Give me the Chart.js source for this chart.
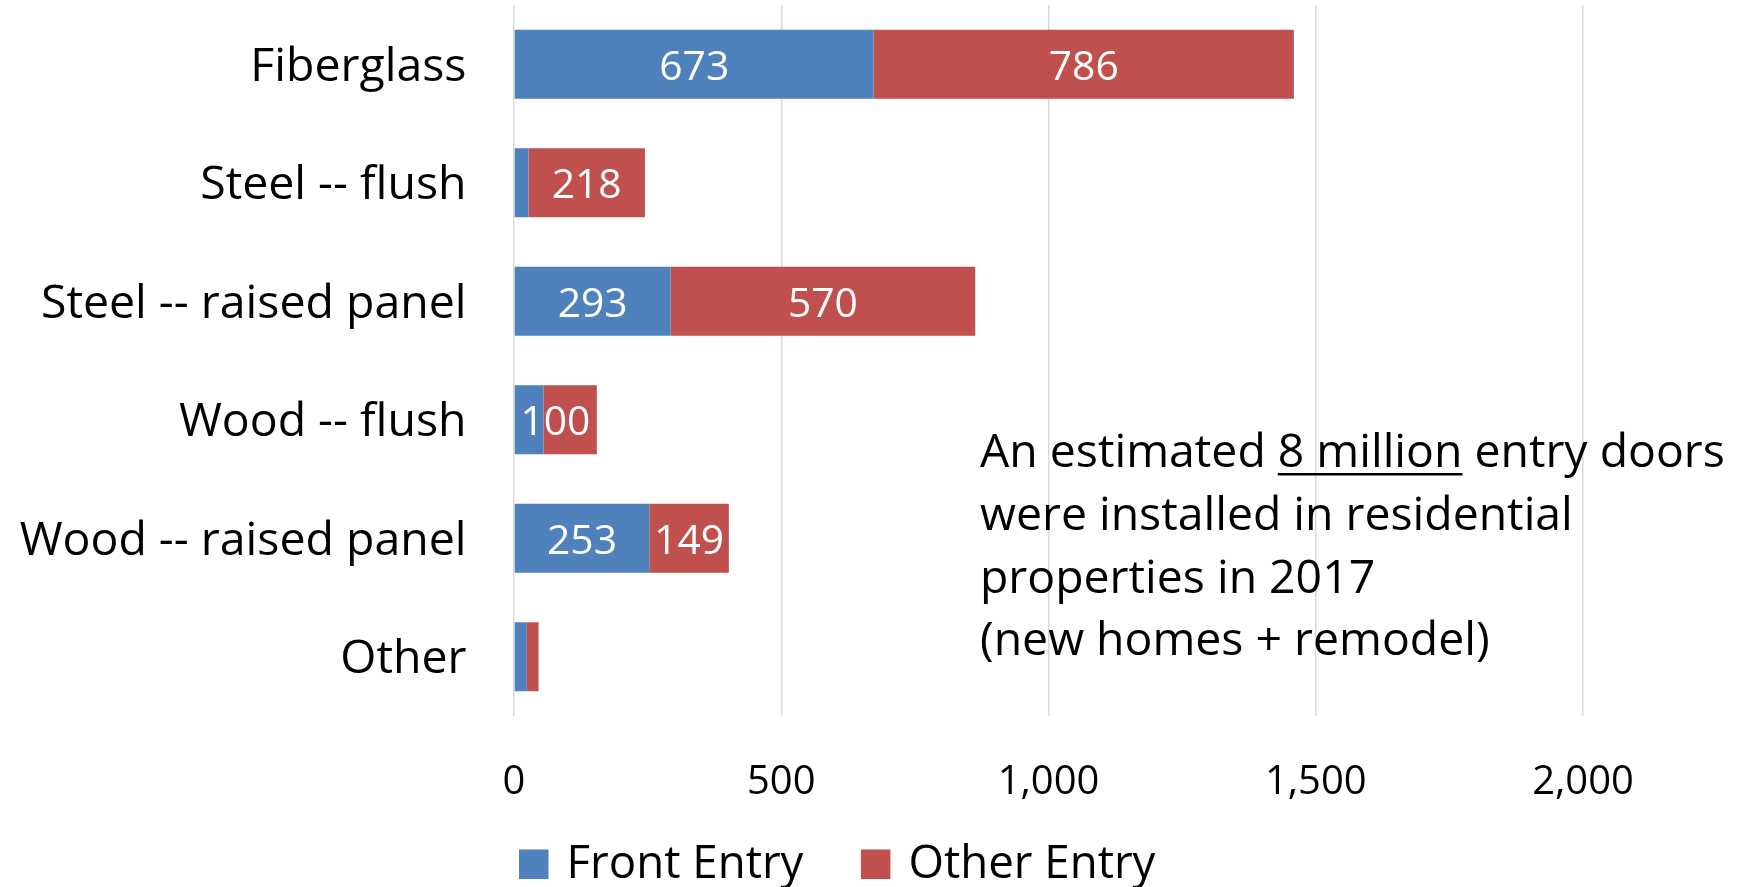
<!DOCTYPE html>
<html>
<head>
<meta charset="utf-8">
<script src="https://cdn.jsdelivr.net/npm/chart.js@4/dist/chart.umd.min.js"></script>
<style>
html,body{margin:0;padding:0;background:#fff;}
#wrap{width:1746px;height:887px;position:relative;}
</style>
</head>
<body>
<div id="wrap"><canvas id="c" width="1746" height="887"></canvas></div>
<script>
// ---- data ----
const categories = ['Fiberglass', 'Steel -- flush', 'Steel -- raised panel', 'Wood -- flush', 'Wood -- raised panel', 'Other'];
const frontEntry = [673, 27, 293, 55, 253, 24];
const otherEntry = [786, 218, 570, 100, 149, 22];
const frontLabels = ['673', null, '293', null, '253', null];
const otherLabels = ['786', '218', '570', '100', '149', null];
const xTicks = [0, 500, 1000, 1500, 2000];
const seriesNames = ['Front Entry', 'Other Entry'];
const seriesColors = ['#4F81BD', '#C0504D'];
const noteLines = ['An estimated 8 million entry doors', 'were installed in residential', 'properties in 2017', '(new homes + remodel)'];
const notePrefix = 'An estimated ';
const noteUnderlined = '8 million';

// ---- font fitting (substitute for Calibri) ----
const FAMILY = '"Open Sans", sans-serif';
const CAP = 0.714;
const mctx = document.createElement('canvas').getContext('2d');
function fit(text, w) { mctx.font = '100px ' + FAMILY; return 100 * w / mctx.measureText(text).width; }
const catSize = fit('Wood -- raised panel', 447);
const tickSize = fit('1,000', 101.7);
const valSize = fit('218', 70);
const legSize = fit('Front Entry', 237);
const noteSize = fit(noteLines[0], 745);

Chart.defaults.font.family = FAMILY;
Chart.defaults.color = '#000';

// nudge category labels slightly down to sit like the reference
const labelNudge = {
  id: 'labelNudge',
  beforeDraw(chart) {
    const s = chart.scales.y;
    const items = s.getLabelItems();
    if (!items._nudged) {
      items.forEach(it => { it.options.translation[1] += 3.5; });
      items._nudged = true;
    }
  }
};

const valueLabels = {
  id: 'valueLabels',
  afterDatasetsDraw(chart) {
    const ctx = chart.ctx;
    const lbls = [frontLabels, otherLabels];
    const x0 = chart.scales.x.getPixelForValue(0);
    ctx.save();
    ctx.font = valSize + 'px ' + FAMILY;
    ctx.fillStyle = '#ffffff';
    ctx.textAlign = 'center';
    ctx.textBaseline = 'alphabetic';
    chart.data.datasets.forEach((ds, di) => {
      const meta = chart.getDatasetMeta(di);
      meta.data.forEach((el, i) => {
        const t = lbls[di][i];
        if (t == null) return;
        const p = el.getProps(['x', 'base', 'y'], true);
        const w = ctx.measureText(t).width;
        let cx = (p.x + p.base) / 2;
        if (w > Math.abs(p.x - p.base)) {
          const lastMeta = chart.getDatasetMeta(chart.data.datasets.length - 1);
          const endX = lastMeta.data[i].getProps(['x'], true).x;
          cx = (x0 + endX) / 2;
        }
        ctx.fillText(t, cx, p.y + valSize * CAP / 2 + 1);
      });
    });
    ctx.restore();
  }
};

const extras = {
  id: 'extras',
  afterDraw(chart) {
    const ctx = chart.ctx;
    ctx.save();
    // legend
    ctx.font = legSize + 'px ' + FAMILY;
    ctx.textAlign = 'left';
    ctx.textBaseline = 'alphabetic';
    let x = 519;
    seriesNames.forEach((name, i) => {
      ctx.fillStyle = seriesColors[i];
      ctx.fillRect(x, 849.5, 29.5, 29.5);
      ctx.fillStyle = '#000';
      ctx.fillText(name, x + 47.5, 878);
      x = x + 47.5 + ctx.measureText(name).width + 57.5;
    });
    // annotation
    ctx.font = noteSize + 'px ' + FAMILY;
    ctx.fillStyle = '#000';
    const nx = 980;
    const baselines = [467, 530, 593, 655];
    noteLines.forEach((l, i) => ctx.fillText(l, nx, baselines[i]));
    const ux = nx + ctx.measureText(notePrefix).width;
    const uw = ctx.measureText(noteUnderlined).width;
    ctx.fillRect(ux, 473, uw, 2.5);
    ctx.restore();
  }
};

new Chart(document.getElementById('c'), {
  type: 'bar',
  data: {
    labels: categories,
    datasets: [
      { label: seriesNames[0], data: frontEntry, backgroundColor: seriesColors[0], borderWidth: 0 },
      { label: seriesNames[1], data: otherEntry, backgroundColor: seriesColors[1], borderWidth: 0 }
    ]
  },
  options: {
    indexAxis: 'y',
    responsive: false,
    animation: false,
    events: [],
    layout: { padding: { top: 5, right: 163, left: 0, bottom: 0 } },
    datasets: { bar: { categoryPercentage: 1, barPercentage: 0.583 } },
    plugins: { legend: { display: false }, tooltip: { enabled: false } },
    scales: {
      x: {
        stacked: true,
        min: 0,
        max: 2000,
        border: { display: false },
        grid: { color: '#d9d9d9', lineWidth: 1.5, drawTicks: false },
        afterBuildTicks: (s) => { s.ticks = xTicks.map(v => ({ value: v })); },
        ticks: {
          font: { size: tickSize },
          color: '#000',
          padding: 782.5 - 716 - 0.6 * tickSize,
          maxRotation: 0,
          autoSkip: false,
          callback: (v) => Number(v).toLocaleString('en-US')
        },
        afterFit: (s) => { s.height = 887 - 716; }
      },
      y: {
        stacked: true,
        border: { display: false },
        grid: { display: false, drawTicks: false },
        ticks: { font: { size: catSize }, color: '#000', padding: 47.5 },
        afterFit: (s) => { s.width = 514; s.paddingTop = 0; s.paddingBottom = 0; }
      }
    }
  },
  plugins: [labelNudge, valueLabels, extras]
});
</script>
</body>
</html>
